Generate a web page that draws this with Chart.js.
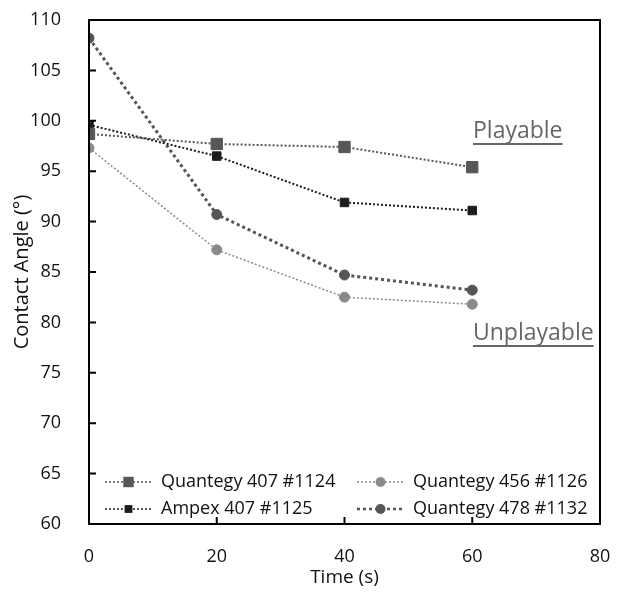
<!DOCTYPE html>
<html>
<head>
<meta charset="utf-8">
<script src="https://cdn.jsdelivr.net/npm/chart.js@4"></script>
<style>
  html, body { margin: 0; padding: 0; background: #fff; }
  #wrap { width: 626px; height: 593px; }
</style>
</head>
<body>
<div id="wrap"><canvas id="chart" width="626" height="593"></canvas></div>
<script>
const times = [0, 20, 40, 60];
const q1124 = [98.7, 97.7, 97.4, 95.4];
const a1125 = [99.6, 96.5, 91.9, 91.1];
const q1126 = [97.3, 87.2, 82.5, 81.8];
const q1132 = [108.2, 90.7, 84.7, 83.2];
const seriesNames = ["Quantegy 407 #1124", "Ampex 407 #1125", "Quantegy 456 #1126", "Quantegy 478 #1132"];
const FONT = "'Open Sans', 'DejaVu Sans', sans-serif";

function pts(vals) {
  return vals.map((v, i) => ({ x: times[i], y: v }));
}

function ds(label, vals, color, shape, radius, width, dash) {
  return {
    label,
    data: pts(vals),
    borderColor: color,
    backgroundColor: color,
    pointBackgroundColor: color,
    pointBorderColor: color,
    pointBorderWidth: 1,
    pointStyle: shape,
    pointRadius: radius,
    borderWidth: width,
    borderDash: dash,
    tension: 0,
    fill: false,
  };
}

const datasets = [
  ds(seriesNames[0], q1124, "#575757", "rect", 8, 2, [2, 2]),
  ds(seriesNames[1], a1125, "#1c1c1c", "rect", 6, 2, [2, 2]),
  ds(seriesNames[2], q1126, "#8a8a8a", "circle", 5, 1.5, [2, 2]),
  ds(seriesNames[3], q1132, "#555555", "circle", 5, 3, [3, 3]),
];

// inward ticks, frame, in-plot legend and labels
const decor = {
  id: "decor",
  afterDraw(chart) {
    const { ctx, chartArea: a, scales } = chart;
    ctx.save();
    ctx.strokeStyle = "#000";
    ctx.lineWidth = 2;
    ctx.strokeRect(a.left, a.top, a.right - a.left, a.bottom - a.top);
    ctx.beginPath();
    scales.y.ticks.forEach(t => {
      const y = scales.y.getPixelForValue(t.value);
      ctx.moveTo(a.left, y); ctx.lineTo(a.left + 7, y);
    });
    scales.x.ticks.forEach(t => {
      const x = scales.x.getPixelForValue(t.value);
      ctx.moveTo(x, a.bottom); ctx.lineTo(x, a.bottom - 7);
    });
    ctx.stroke();

    // legend
    const cols = [a.left + 16, a.left + 268];
    const rows = [a.bottom - 42, a.bottom - 15];
    const order = [[0, 0, 0], [2, 1, 0], [1, 0, 1], [3, 1, 1]];
    ctx.font = "18px " + FONT;
    ctx.textBaseline = "middle";
    order.forEach(([di, c, r]) => {
      const d = datasets[di];
      const x0 = cols[c], y0 = rows[r];
      ctx.strokeStyle = d.borderColor;
      ctx.lineWidth = d.borderWidth > 2 ? 2.5 : 1.5;
      ctx.setLineDash(d.borderDash);
      ctx.beginPath();
      ctx.moveTo(x0, y0); ctx.lineTo(x0 + 47, y0);
      ctx.stroke();
      ctx.setLineDash([]);
      ctx.fillStyle = d.pointBackgroundColor;
      const rr = d.pointStyle === "rect" ? d.pointRadius * 0.65 : d.pointRadius;
      if (d.pointStyle === "rect") {
        ctx.fillRect(x0 + 23.5 - rr, y0 - rr, rr * 2, rr * 2);
      } else {
        ctx.beginPath(); ctx.arc(x0 + 23.5, y0, rr, 0, Math.PI * 2); ctx.fill();
      }
      ctx.fillStyle = "#111";
      ctx.fillText(d.label, x0 + 56, y0);
    });

    // annotations
    ctx.fillStyle = "#666";
    ctx.strokeStyle = "#666";
    ctx.lineWidth = 2;
    ctx.font = "23px " + FONT;
    ctx.textBaseline = "alphabetic";
    const notes = [["Playable", 473, 138], ["Unplayable", 473, 340]];
    notes.forEach(([txt, x, y]) => {
      ctx.fillText(txt, x, y);
      const w = ctx.measureText(txt).width;
      ctx.beginPath(); ctx.moveTo(x, y + 6); ctx.lineTo(x + w, y + 6); ctx.stroke();
    });
    ctx.restore();
  },
};

new Chart(document.getElementById("chart"), {
  type: "line",
  data: { datasets },
  options: {
    responsive: false,
    animation: false,
    layout: { padding: { left: 6, top: 0, right: 26, bottom: 0 } },
    plugins: { legend: { display: false }, tooltip: { enabled: false } },
    scales: {
      x: {
        type: "linear", min: 0, max: 80,
        ticks: { stepSize: 20, color: "#111", font: { size: 18, family: FONT }, padding: 14 },
        grid: { display: false },
        border: { display: false },
        title: { display: true, text: "Time (s)", color: "#111", font: { size: 19, family: FONT }, padding: { top: 0 } },
        afterFit(s) { s.height = 69; },
      },
      y: {
        min: 60, max: 110,
        ticks: { stepSize: 5, color: "#111", font: { size: 18, family: FONT }, padding: 20 },
        grid: { display: false },
        border: { display: false },
        title: { display: true, text: "Contact Angle (°)", color: "#111", font: { size: 20, family: FONT }, padding: { bottom: 0 } },
        afterFit(s) { s.width = 83; s.paddingTop = 20; },
      },
    },
  },
  plugins: [decor],
});
</script>
</body>
</html>
